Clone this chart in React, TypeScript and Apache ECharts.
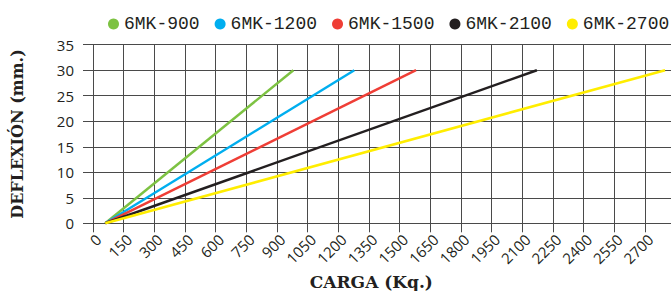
import React, { useEffect, useRef } from "react";
import * as echarts from "echarts";

const seriesNames = ["6MK-900", "6MK-1200", "6MK-1500", "6MK-2100", "6MK-2700"];
const seriesColors = ["#7dc242", "#00aeef", "#ef3e36", "#231f20", "#ffed00"];
const startLoad = [60, 60, 60, 60, 60];
const endLoad = [980, 1278, 1580, 2171, 2798];
const startDeflection = [0, 0, 0, 0, 0];
const endDeflection = [30, 30, 30, 30, 30];

const xMin = 0;
const xMax = 2850;
const xInterval = 150;
const yMin = 0;
const yMax = 35;
const yInterval = 5;

const xTitle = "CARGA (Kq.)";
const yTitle = "DEFLEXIÓN (mm.)";

export default function App() {
  const ref = useRef<HTMLDivElement>(null);
  useEffect(() => {
    if (!ref.current) return;
    const chart = echarts.init(ref.current, null, { renderer: "svg" });
    const gridColor = "#4a4a4a";
    chart.setOption({
      animation: false,
      backgroundColor: "#ffffff",
      legend: {
        left: 103,
        top: 10,
        icon: "circle",
        itemWidth: 11,
        itemHeight: 11,
        itemGap: 15,
        textStyle: {
          fontFamily: "Liberation Mono",
          fontSize: 18,
          color: "#231f20",
        },
        data: seriesNames,
      },
      grid: {
        left: 93,
        right: 24.3,
        top: 44.7,
        bottom: 67.7,
        containLabel: false,
        outerBoundsMode: "none",
      },
      xAxis: {
        type: "value",
        min: xMin,
        max: xMax,
        interval: xInterval,
        name: xTitle,
        nameLocation: "middle",
        nameGap: 48,
        nameTextStyle: {
          fontFamily: "DejaVu Serif",
          fontWeight: "bold",
          fontSize: 17,
          color: "#231f20",
          padding: [0, 26, 0, 0],
        },
        axisLine: { show: true, lineStyle: { color: gridColor, width: 1 } },
        axisTick: { show: true, length: 9, lineStyle: { color: gridColor } },
        splitLine: { show: true, lineStyle: { color: gridColor, width: 1 } },
        axisLabel: {
          rotate: 45,
          margin: 8,
          verticalAlign: "top",
          fontFamily: "Open Sans",
          fontSize: 15,
          color: "#231f20",
          formatter: (v: number) => (v > 2700 ? "" : String(v)),
        },
      },
      yAxis: {
        type: "value",
        min: yMin,
        max: yMax,
        interval: yInterval,
        name: yTitle,
        nameLocation: "middle",
        nameGap: 68,
        nameRotate: 90,
        nameTextStyle: {
          fontFamily: "DejaVu Serif",
          fontWeight: "bold",
          fontSize: 16,
          color: "#231f20",
        },
        axisLine: { show: true, lineStyle: { color: gridColor, width: 1 } },
        axisTick: { show: true, length: 10, lineStyle: { color: gridColor } },
        splitLine: { show: true, lineStyle: { color: gridColor, width: 1 } },
        axisLabel: {
          margin: 19,
          fontFamily: "Open Sans",
          fontSize: 15,
          color: "#231f20",
        },
      },
      series: seriesNames.map((name, i) => ({
        name,
        type: "line",
        showSymbol: false,
        symbol: "circle",
        color: seriesColors[i],
        lineStyle: { width: 2.5, color: seriesColors[i] },
        data: [
          [startLoad[i], startDeflection[i]],
          [endLoad[i], endDeflection[i]],
        ],
      })),
    });
    return () => chart.dispose();
  }, []);
  return (
    <div
      ref={ref}
      style={{ position: "fixed", left: 0, top: 0, width: 700, height: 291 }}
    />
  );
}
